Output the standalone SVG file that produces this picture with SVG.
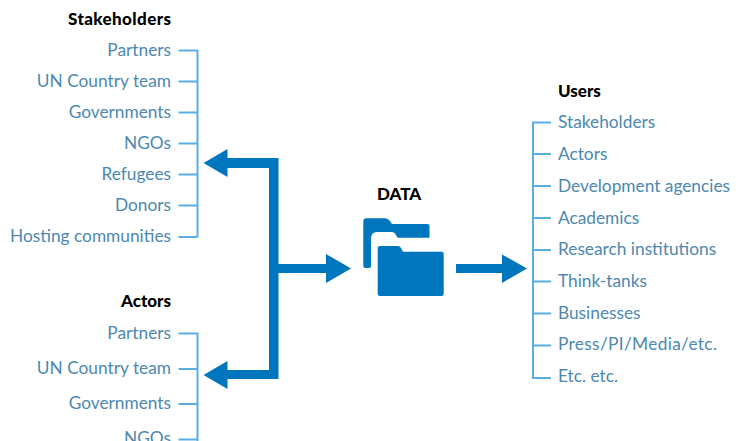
<svg xmlns="http://www.w3.org/2000/svg" width="746" height="441" viewBox="0 0 746 441">
<style>
text{font-family:"Lato","Open Sans","Liberation Sans",sans-serif;font-size:17.300px}
.t{fill:#4c88b0}
.h{fill:#000;font-weight:900;font-size:17px}
.e{text-anchor:end}
.b{fill:none;stroke:#5aaee3;stroke-width:2}
.f{fill:#0076bf}
</style>
<rect width="746" height="441" fill="#fff"/>
<g id="connectors">
<path class="b" d="M178.500 50.500H197.500V237M178.500 81.500H197.500M178.500 112.500H197.500M178.500 143.500H197.500M178.500 174.500H197.500M178.500 205.500H197.500M178.500 237H197.500"/>
<path class="b" d="M178.500 333.500H197.500V441M178.500 369H197.500M178.500 404H197.500M178.500 439.500H197.500"/>
<path class="b" d="M551 122.500H533V378H551M533 154H551M533 186H551M533 218H551M533 250H551M533 281.500H551M533 313.500H551M533 345.500H551"/>
<path class="f" d="M203.500 163L227.500 149V158H278.500V370V379H227.500V389L203.500 375L227.500 361V370H269V168H227.500V177Z"/>
<path class="f" d="M278 264H326V254L351 268.500L326 283V273H278Z"/>
<path class="f" d="M456 264H502V254.500L527 268.500L502 283V273H456Z"/>
</g>
<g id="stakeholders">
<text class="h" x="68" y="25" textLength="103">Stakeholders</text>
<text class="t e" x="171" y="55.500">Partners</text>
<text class="t e" x="171" y="86.500">UN Country team</text>
<text class="t e" x="171" y="117.500">Governments</text>
<text class="t e" x="171" y="148.500">NGOs</text>
<text class="t e" x="171" y="179.500">Refugees</text>
<text class="t e" x="171" y="210.500">Donors</text>
<text class="t e" x="171" y="242">Hosting communities</text>
</g>
<g id="actors">
<text class="h e" x="171" y="307">Actors</text>
<text class="t e" x="171" y="338.500">Partners</text>
<text class="t e" x="171" y="373.500">UN Country team</text>
<text class="t e" x="171" y="409">Governments</text>
<text class="t e" x="171" y="444">NGOs</text>
</g>
<g id="data">
<text class="h" x="377" y="200">DATA</text>
<path class="f" d="M366 218.300H385Q388 218.300 390 221L392 224H427.500Q429.500 224 429.500 226V237.700H397.700L395 233.500Q394 232 392 232H377Q371 232 371 239V266Q371 268 369 268H365.500Q363.300 268 363.300 266V222Q363.300 218.300 366 218.300Z"/>
<path class="f" d="M380 246H398Q400 246 401 248L403 251.700H441.700Q443.700 251.700 443.700 253.700V294Q443.700 296 441.700 296H380Q377.700 296 377.700 294V248Q377.700 246 380 246Z"/>
</g>
<g id="users">
<text class="h" x="558" y="96.500">Users</text>
<text class="t" x="558" y="128">Stakeholders</text>
<text class="t" x="558" y="160">Actors</text>
<text class="t" x="558" y="192">Development agencies</text>
<text class="t" x="558" y="223.500">Academics</text>
<text class="t" x="558" y="255">Research institutions</text>
<text class="t" x="558" y="287">Think-tanks</text>
<text class="t" x="558" y="318.500">Businesses</text>
<text class="t" x="558" y="350" textLength="159">Press/PI/Media/etc.</text>
<text class="t" x="558" y="381.500">Etc. etc.</text>
</g>
</svg>
